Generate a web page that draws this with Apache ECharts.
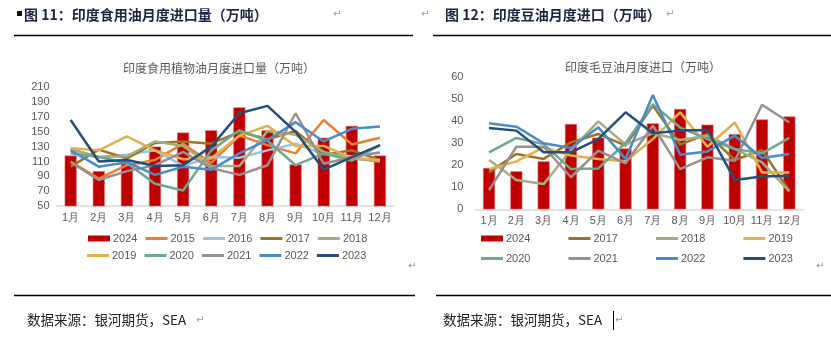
<!DOCTYPE html>
<html><head><meta charset="utf-8">
<script src="https://cdn.jsdelivr.net/npm/echarts@6/dist/echarts.min.js"></script>
<style>html,body{margin:0;padding:0;background:#fff;}#c{width:831px;height:343px;}</style>
</head><body><div id="c"></div>
<script>
var months = ['1月','2月','3月','4月','5月','6月','7月','8月','9月','10月','11月','12月'];
var yTicksLeft = [50, 210, 20];
var yTicksRight = [0, 60, 10];

// 图11 印度食用植物油月度进口量（万吨）
var oil2024 = [118, 97, 107, 130, 149, 152, 183, 152, 106, 142, 158, 118];
var oil2015 = [110, 87, 105, 112, 134, 108, 145, 132, 121, 166, 133, 142];
var oil2016 = [126, 116, 119, 125, 104, 116, 115, 125, 134, 120, 117, 122];
var oil2017 = [103, 126, 114, 135, 137, 134, 150, 140, 151, 119, 125, 112];
var oil2018 = [127, 116, 117, 137, 131, 104, 104, 151, 146, 123, 114, 110];
var oil2019 = [128, 125, 144, 125, 113, 114, 145, 158, 131, 131, 115, 112];
var oil2020 = [121, 116, 108, 80, 71, 125, 152, 138, 105, 121, 111, 132];
var oil2021 = [109, 85, 97, 105, 123, 101, 92, 105, 175, 107, 116, 122];
var oil2022 = [125, 103, 109, 92, 103, 99, 121, 139, 163, 137, 154, 157];
var oil2023 = [166, 110, 112, 104, 105, 130, 175, 185, 150, 99, 116, 132];

// 图12 印度毛豆油月度进口（万吨）
var soy2024 = [18.7, 17.2, 21.7, 38.6, 32.4, 27.5, 38.9, 45.4, 38.3, 34.0, 40.6, 42.0];
var soy2017 = [16.7, 25, 22.8, 30.3, 34.1, 28.8, 46.9, 29.3, 34.1, 22.3, 26.8, 8.4];
var soy2018 = [22.3, 13.3, 11.4, 26.8, 39.8, 29.3, 34.4, 31.4, 33.3, 27.3, 21.2, 8.1];
var soy2019 = [18.2, 21.7, 28, 24.3, 22.8, 21.7, 31.8, 43.9, 28.3, 39.3, 16.7, 16.7];
var soy2020 = [25.8, 32.3, 29.5, 18.2, 18.5, 30, 47.6, 37, 31.8, 27.3, 25.3, 32.3];
var soy2021 = [8.7, 28.3, 28.3, 14.5, 26.5, 20.8, 37.8, 18.2, 23.5, 22, 47.3, 39.3];
var soy2022 = [38.9, 37.4, 29.9, 27.7, 37.1, 22.8, 51.7, 24.7, 26.2, 33.3, 23.2, 25];
var soy2023 = [36.8, 35.6, 25.8, 25.8, 31.8, 43.9, 34.4, 35.6, 35.9, 13.3, 14.8, 15.2];

var colors = {
  '2024': '#C00000', '2015': '#ED7D31', '2016': '#9DC3E6', '2017': '#9E7321',
  '2018': '#A5AE7E', '2019': '#E2B14B', '2020': '#6FA892', '2021': '#998F8F',
  '2022': '#4B8BC9', '2023': '#23507A'
};

var F = '"Liberation Sans", Arial, sans-serif';
var CJK = '"Noto Sans CJK SC", sans-serif';
var gray = '#595959';
var lineIcon = 'path://M0,0H22V3H0Z';

function lineS(name, data, idx) {
  return { name: name, type: 'line', data: data, xAxisIndex: idx, yAxisIndex: idx,
    symbol: 'none', smooth: false, lineStyle: { width: 2.5, color: colors[name] },
    itemStyle: { color: colors[name] }, z: 3 };
}
function barS(name, data, idx) {
  return { name: name, type: 'bar', data: data, xAxisIndex: idx, yAxisIndex: idx,
    barWidth: 12, itemStyle: { color: colors[name], borderColor: '#E06666', borderWidth: 0.6 }, z: 2 };
}

var leftLines = [['2015', oil2015], ['2016', oil2016], ['2017', oil2017], ['2018', oil2018], ['2019', oil2019],
  ['2020', oil2020], ['2021', oil2021], ['2022', oil2022], ['2023', oil2023]];
var rightLines = [['2017', soy2017], ['2018', soy2018], ['2019', soy2019], ['2020', soy2020],
  ['2021', soy2021], ['2022', soy2022], ['2023', soy2023]];

var series = [barS('2024', oil2024, 0)];
leftLines.forEach(function (p) { series.push(lineS(p[0], p[1], 0)); });
series.push(barS('2024', soy2024, 1));
rightLines.forEach(function (p) { series.push(lineS(p[0], p[1], 1)); });

function xAx(gi) {
  return { type: 'category', gridIndex: gi, data: months, boundaryGap: true,
    axisLine: { show: true, lineStyle: { color: '#D9D9D9', width: 1.5 } },
    axisTick: { show: false },
    axisLabel: { color: gray, fontSize: 11, fontFamily: F, margin: 6, interval: 0 } };
}
function yAx(gi, t, margin) {
  return { type: 'value', gridIndex: gi, min: t[0], max: t[1], interval: t[2],
    axisLine: { show: false }, axisTick: { show: false }, splitLine: { show: false },
    axisLabel: { color: gray, fontSize: 11, fontFamily: F, margin: margin } };
}
function legItems(names) {
  return names.map(function (n) {
    return n === '2024' ? { name: n, icon: 'rect' } : { name: n, icon: lineIcon };
  });
}
function leg(names, left, top, gap) {
  return { data: legItems(names), left: left, top: top, itemWidth: 22, itemHeight: 6, itemGap: gap,
    padding: 0, symbolKeepAspect: true,
    itemStyle: { borderWidth: 0 },
    textStyle: { color: gray, fontSize: 11, fontFamily: F, padding: [0, 0, 0, -2] }, selectedMode: false };
}

var chart = echarts.init(document.getElementById('c'), null, { renderer: 'canvas' });
chart.setOption({
  animation: false,
  backgroundColor: '#fff',
  title: [
    { text: '印度食用植物油月度进口量（万吨）', left: 214, top: 57, textAlign: 'center',
      textStyle: { color: gray, fontSize: 12, fontWeight: 'normal', fontFamily: CJK } },
    { text: '印度毛豆油月度进口（万吨）', left: 638, top: 56, textAlign: 'center',
      textStyle: { color: gray, fontSize: 12, fontWeight: 'normal', fontFamily: CJK } }
  ],
  grid: [
    { left: 56.6, width: 337.4, top: 87.3, height: 118.7 },
    { left: 475.4, width: 327.6, top: 76.7, height: 132.6 }
  ],
  xAxis: [xAx(0), xAx(1)],
  yAxis: [yAx(0, yTicksLeft, 7), yAx(1, yTicksRight, 12)],
  legend: [
    leg(['2024', '2015', '2016', '2017', '2018'], 88, 233, 8),
    leg(['2019', '2020', '2021', '2022', '2023'], 87, 250, 8),
    leg(['2024', '2017', '2018', '2019'], 481, 233, 38),
    leg(['2020', '2021', '2022', '2023'], 481, 253, 38)
  ],
  series: series,
  graphic: [
    { type: 'rect', shape: { x: 17, y: 11, width: 5, height: 5 }, style: { fill: '#111' } },
    { type: 'text', x: 24, y: 15, style: { text: '图 11：印度食用油月度进口量（万吨）', font: 'bold 14px ' + CJK, fill: '#1B2440', verticalAlign: 'middle' } },
    { type: 'text', x: 445, y: 15, style: { text: '图 12：印度豆油月度进口（万吨）', font: 'bold 14px ' + CJK, fill: '#1B2440', verticalAlign: 'middle' } },
    { type: 'text', x: 333, y: 14, style: { text: '↵', font: '10px "DejaVu Sans"', fill: '#999', verticalAlign: 'middle' } },
    { type: 'text', x: 421, y: 14, style: { text: '↵', font: '10px "DejaVu Sans"', fill: '#999', verticalAlign: 'middle' } },
    { type: 'text', x: 666, y: 14, style: { text: '↵', font: '10px "DejaVu Sans"', fill: '#999', verticalAlign: 'middle' } },
    { type: 'text', x: 408, y: 266, style: { text: '↵', font: '10px "DejaVu Sans"', fill: '#999', verticalAlign: 'middle' } },
    { type: 'text', x: 816, y: 266, style: { text: '↵', font: '10px "DejaVu Sans"', fill: '#999', verticalAlign: 'middle' } },
    { type: 'line', shape: { x1: 14, y1: 35.5, x2: 413, y2: 35.5 }, style: { stroke: '#000', lineWidth: 1.5 } },
    { type: 'line', shape: { x1: 433, y1: 35.5, x2: 831, y2: 35.5 }, style: { stroke: '#000', lineWidth: 1.5 } },
    { type: 'line', shape: { x1: 14, y1: 295.5, x2: 415, y2: 295.5 }, style: { stroke: '#000', lineWidth: 1.5 } },
    { type: 'line', shape: { x1: 436, y1: 295.5, x2: 831, y2: 295.5 }, style: { stroke: '#000', lineWidth: 1.5 } },
    { type: 'text', x: 27, y: 320, style: { text: '数据来源：银河期货，SEA', font: '13.5px ' + CJK, fill: '#222', verticalAlign: 'middle' } },
    { type: 'text', x: 443, y: 320, style: { text: '数据来源：银河期货，SEA', font: '13.5px ' + CJK, fill: '#222', verticalAlign: 'middle' } },
    { type: 'text', x: 196, y: 320, style: { text: '↵', font: '10px "DejaVu Sans"', fill: '#999', verticalAlign: 'middle' } },
    { type: 'line', shape: { x1: 613.5, y1: 311, x2: 613.5, y2: 330 }, style: { stroke: '#000', lineWidth: 1 } },
    { type: 'text', x: 615, y: 320, style: { text: '↵', font: '10px "DejaVu Sans"', fill: '#999', verticalAlign: 'middle' } }
  ]
});
</script></body></html>
